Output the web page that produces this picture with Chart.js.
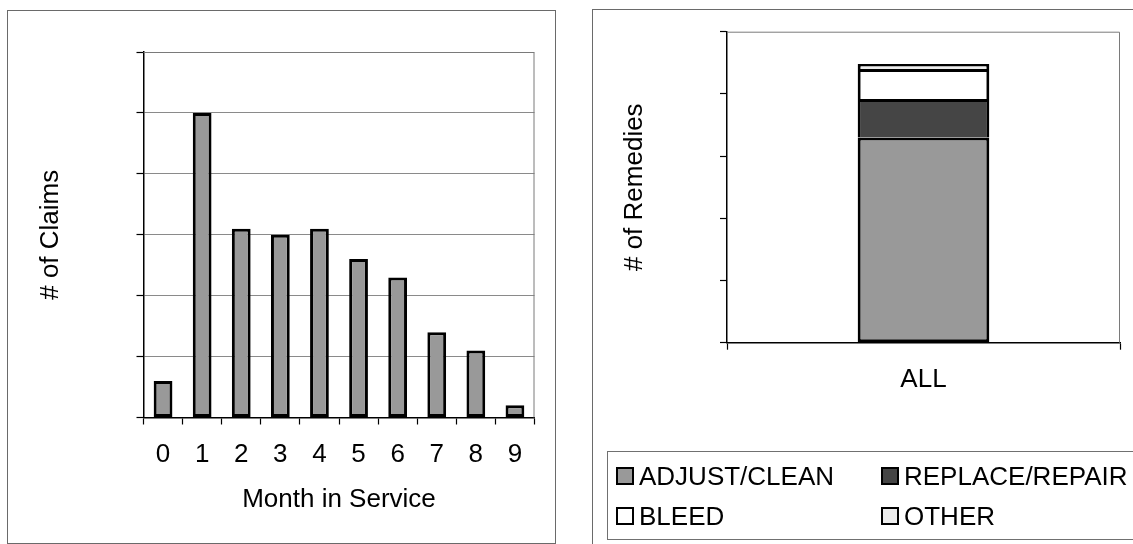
<!DOCTYPE html>
<html>
<head>
<meta charset="utf-8">
<script src="https://cdn.jsdelivr.net/npm/chart.js@4.4.1/dist/chart.umd.min.js"></script>
<style>
  html, body { margin: 0; padding: 0; background: #fff; width: 1133px; height: 544px; overflow: hidden;
    font-family: "Liberation Sans", Arial, sans-serif; }
  .panel { position: absolute; border: 1.5px solid #6a6a6a; box-sizing: border-box; }
  #p1 { left: 7px; top: 10px; width: 549px; height: 534px; }
  #p2 { left: 592px; top: 9px; width: 560px; height: 545px; }
  canvas { position: absolute; top: 0; }
  #c1 { left: 0; }
  #c2 { left: 560px; }
  #legend { position: absolute; left: 607px; top: 451px; width: 540px; height: 89px;
    border: 1.5px solid #707070; box-sizing: border-box; }
  .item { position: absolute; height: 30px; display: flex; align-items: center;
    font-size: 26px; color: #000; white-space: nowrap; }
  .sw { width: 18px; height: 18px; border: 2px solid #000; box-sizing: border-box; margin-right: 5px; }
</style>
</head>
<body>
<div class="panel" id="p1"></div>
<div class="panel" id="p2"></div>
<canvas id="c1" width="560" height="544"></canvas>
<canvas id="c2" width="573" height="544"></canvas>
<div id="legend"></div>
<script>
// Claims per month in service
const months = ['0', '1', '2', '3', '4', '5', '6', '7', '8', '9'];
const claims = [6, 50, 31, 30, 31, 26, 23, 14, 11, 2];
const claimsMax = 60;
const claimsStep = 10;

// Remedies, stacked in one column
const remedyCategories = ['ALL'];
const adjustClean = [165];
const replaceRepair = [31];
const bleed = [24];
const other = [4];
const remedyMax = 250;
const remedyStep = 50;

const FONT = '"Liberation Sans", Arial, sans-serif';

// Gray frame along the top and right edges of the plot area
const plotFrame = {
  id: 'plotFrame',
  beforeDatasetsDraw(chart) {
    const { ctx, chartArea: a } = chart;
    ctx.save();
    ctx.strokeStyle = '#7a7a7a';
    ctx.lineWidth = 1;
    ctx.beginPath();
    ctx.moveTo(a.left, a.top + 0.5);
    ctx.lineTo(a.right - 0.5, a.top + 0.5);
    ctx.lineTo(a.right - 0.5, a.bottom);
    ctx.stroke();
    ctx.restore();
  }
};

const axisFont = { size: 26, family: FONT };

new Chart(document.getElementById('c1'), {
  type: 'bar',
  data: {
    labels: months,
    datasets: [{
      label: '# of Claims',
      data: claims,
      backgroundColor: '#999999',
      borderColor: '#000',
      borderWidth: 3,
      borderSkipped: false,
      barPercentage: 0.48,
      categoryPercentage: 1
    }]
  },
  options: {
    responsive: false,
    animation: false,
    events: [],
    layout: { padding: { left: 35.4, top: 52, right: 25.5, bottom: 28.4 } },
    plugins: { legend: { display: false }, tooltip: { enabled: false } },
    scales: {
      x: {
        grid: { offset: true, drawOnChartArea: false, drawTicks: true, tickLength: 7, tickColor: '#000', tickWidth: 1.2 },
        border: { color: '#000', width: 1.5 },
        ticks: { color: '#000', font: axisFont, padding: 14.9, maxRotation: 0, autoSkip: false },
        title: { display: true, text: 'Month in Service', color: '#000', font: axisFont, padding: 0 },
        afterFit(s) { s.height = 98.1; }
      },
      y: {
        min: 0, max: claimsMax,
        ticks: { display: false, stepSize: claimsStep },
        grid: { color: '#8a8a8a', lineWidth: 1, drawTicks: true, tickLength: 7, tickColor: '#000', tickWidth: 1.2 },
        border: { color: '#000', width: 1.5 },
        title: { display: true, text: '# of Claims', color: '#000', font: axisFont, padding: 0 },
        afterFit(s) { s.width = 108.1; }
      }
    }
  },
  plugins: [plotFrame]
});

const segment = {
  borderColor: '#000',
  borderWidth: 3,
  barPercentage: 0.335,
  categoryPercentage: 1,
  stack: 'remedies'
};

const remedyChart = new Chart(document.getElementById('c2'), {
  type: 'bar',
  data: {
    labels: remedyCategories,
    datasets: [
      Object.assign({ label: 'ADJUST/CLEAN', data: adjustClean, backgroundColor: '#999999', borderSkipped: false }, segment),
      Object.assign({ label: 'REPLACE/REPAIR', data: replaceRepair, backgroundColor: '#454545', borderSkipped: 'bottom' }, segment),
      Object.assign({ label: 'BLEED', data: bleed, backgroundColor: '#ffffff', borderSkipped: 'bottom' }, segment),
      Object.assign({ label: 'OTHER', data: other, backgroundColor: '#ececec', borderSkipped: 'bottom' }, segment)
    ]
  },
  options: {
    responsive: false,
    animation: false,
    events: [],
    layout: { padding: { left: 59.4, top: 31.7, right: 13, bottom: 141.3 } },
    plugins: { legend: { display: false }, tooltip: { enabled: false } },
    scales: {
      x: {
        stacked: true,
        grid: { offset: true, drawOnChartArea: false, drawTicks: true, tickLength: 7, tickColor: '#000', tickWidth: 1.2 },
        border: { color: '#000', width: 1.5 },
        ticks: { color: '#000', font: axisFont, padding: 14.7 },
        afterFit(s) { s.height = 60; }
      },
      y: {
        stacked: true,
        min: 0, max: remedyMax,
        ticks: { display: false, stepSize: remedyStep },
        grid: { drawOnChartArea: false, drawTicks: true, tickLength: 7, tickColor: '#000', tickWidth: 1.2 },
        border: { color: '#000', width: 1.5 },
        title: { display: true, text: '# of Remedies', color: '#000', font: axisFont, padding: 0 },
        afterFit(s) { s.width = 107.6; }
      }
    }
  },
  plugins: [plotFrame]
});

// Two-column legend built from the remedy datasets
const legendBox = document.getElementById('legend');
const items = Chart.defaults.plugins.legend.labels.generateLabels(remedyChart);
const colX = [8, 273];
const rowY = [9, 49];
items.forEach((it, i) => {
  const el = document.createElement('div');
  el.className = 'item';
  el.style.left = colX[i % 2] + 'px';
  el.style.top = rowY[Math.floor(i / 2)] + 'px';
  const sw = document.createElement('span');
  sw.className = 'sw';
  sw.style.background = it.fillStyle;
  const tx = document.createElement('span');
  tx.textContent = it.text;
  el.appendChild(sw);
  el.appendChild(tx);
  legendBox.appendChild(el);
});
</script>
</body>
</html>
